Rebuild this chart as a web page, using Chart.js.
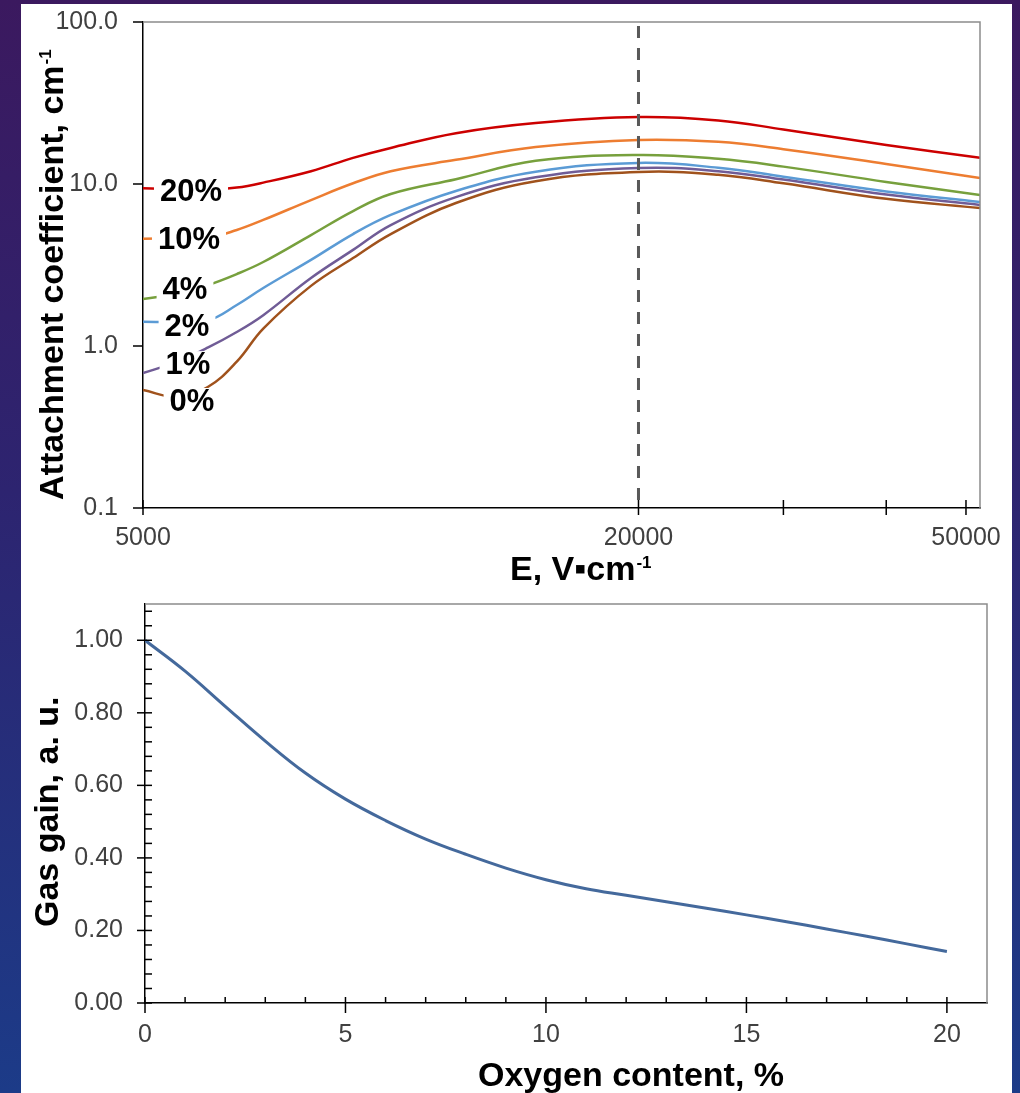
<!DOCTYPE html>
<html>
<head>
<meta charset="utf-8">
<script src="https://cdn.jsdelivr.net/npm/chart.js@4.4.1/dist/chart.umd.min.js"></script>
<style>
  html, body { margin: 0; padding: 0; }
  body {
    width: 1020px; height: 1093px; overflow: hidden; position: relative;
    background: linear-gradient(180deg, #3b195f 0%, #2d2470 45%, #1c3b88 100%);
  }
  .panel { position: absolute; left: 21px; top: 4px; width: 991px; height: 1089px; background: #fff; }
  canvas { position: absolute; left: 0; }
  #c1 { top: 0; }
  #c2 { top: 590px; }
</style>
</head>
<body>
<div class="panel"></div>
<canvas id="c1" width="1020" height="590"></canvas>
<canvas id="c2" width="1020" height="503"></canvas>
<script>
// ---- top chart: attachment coefficient vs field, per O2 content ----
const fieldE = [5000, 5500, 6000, 6500, 7000, 8000, 9000, 10000, 12000, 15000, 20000, 25000, 30000, 40000, 52000];
const o2Labels = ['20%', '10%', '4%', '2%', '1%', '0%'];
const att20 = [9.4, 9.3, 9.2, 9.5, 10.2, 12.0, 14.5, 16.7, 20.6, 23.8, 25.9, 24.7, 21.7, 17.4, 14.5];
const att10 = [4.6, 4.62, 4.66, 5.2, 6.0, 7.96, 10.1, 12.0, 14.1, 16.9, 18.7, 18.2, 16.4, 13.3, 10.9];
const att4 = [1.95, 2.1, 2.38, 2.78, 3.3, 4.84, 6.81, 8.67, 10.7, 13.9, 15.1, 14.3, 12.8, 10.3, 8.55];
const att2 = [1.41, 1.41, 1.44, 1.79, 2.28, 3.4, 4.91, 6.44, 9.06, 11.9, 13.5, 12.6, 11.1, 9.0, 7.74];
const att1 = [0.68, 0.8, 0.98, 1.22, 1.55, 2.63, 3.92, 5.58, 8.3, 11.0, 12.55, 12.0, 10.65, 8.6, 7.42];
const att0 = [0.535, 0.485, 0.56, 0.8, 1.28, 2.35, 3.49, 4.91, 7.63, 10.4, 11.86, 11.4, 10.1, 8.1, 7.11];
const attSeries = [att20, att10, att4, att2, att1, att0];
const attColors = ['#cc0000', '#ed7d31', '#77a03d', '#5b9bd5', '#705c96', '#a0521c'];
const labelOffsets = [[48, 3], [46, 1], [42, -10], [44, 5], [45, -9], [49, 11]];
const markerE = 20000;
const eTicks = [5000, 20000, 30000, 40000, 50000];
const eTickLabels = [5000, 20000, 50000];
const attTicks = [0.1, 1, 10, 100];

// ---- bottom chart: gas gain vs oxygen content ----
const o2Content = [0, 1, 2, 3, 4, 5, 6, 7, 8, 9, 10, 11, 12, 13, 14, 15, 16, 17, 18, 19, 20];
const gasGain = [1.0, 0.915, 0.818, 0.722, 0.634, 0.562, 0.503, 0.452, 0.41, 0.372, 0.34, 0.315, 0.297, 0.279, 0.261, 0.243, 0.224, 0.204, 0.184, 0.163, 0.142];
const o2Ticks = [0, 5, 10, 15, 20];
const o2Minor = [1, 2, 3, 4, 6, 7, 8, 9, 11, 12, 13, 14, 16, 17, 18, 19];
const gainTicks = [0, 0.2, 0.4, 0.6, 0.8, 1.0];
const gainMinor = Array.from({length: 27}, (_, i) => (i + 1) * 0.04)
  .filter(v => Math.abs(v / 0.2 - Math.round(v / 0.2)) > 1e-6);

const FONT = '"Liberation Sans", Arial, "DejaVu Sans", sans-serif';
const tickFont = { family: FONT, size: 25 };

// keep the plot box where it is, whatever the label sizes say
function pinPadding(s) {
  s.paddingTop = 0; s.paddingBottom = 0; s.paddingLeft = 0; s.paddingRight = 0;
}

// frame (grey top/right) + hand placed tick marks
const frameTicks = {
  id: 'frameTicks',
  afterDraw(chart, args, opts) {
    const ctx = chart.ctx;
    const { left, right, top, bottom } = chart.chartArea;
    ctx.save();
    ctx.strokeStyle = '#8c8c8c';
    ctx.lineWidth = 1.5;
    ctx.beginPath();
    ctx.moveTo(left, top); ctx.lineTo(right, top); ctx.lineTo(right, bottom);
    ctx.stroke();
    ctx.strokeStyle = '#000';
    ctx.lineWidth = 1.5;
    for (const m of opts.marks) {
      const scale = chart.scales[m.axis];
      for (const v of m.values) {
        const p = scale.getPixelForValue(v);
        ctx.beginPath();
        if (m.axis === 'x') { ctx.moveTo(p, bottom - m.inner); ctx.lineTo(p, bottom + m.outer); }
        else { ctx.moveTo(left - m.outer, p); ctx.lineTo(left + m.inner, p); }
        ctx.stroke();
      }
    }
    ctx.restore();
  }
};

const axisTitles = {
  id: 'axisTitles',
  afterDraw(chart, args, opts) {
    const ctx = chart.ctx;
    for (const t of opts.items) {
      ctx.save();
      ctx.translate(t.x, t.y);
      if (t.vertical) ctx.rotate(-Math.PI / 2);
      ctx.fillStyle = '#000';
      ctx.textAlign = 'left';
      ctx.textBaseline = 'alphabetic';
      ctx.font = 'bold 34px ' + FONT;
      ctx.fillText(t.text, 0, 0);
      if (t.sup) {
        const w = ctx.measureText(t.text).width;
        ctx.font = 'bold 17px ' + FONT;
        ctx.fillText(t.sup, w + 1, -12);
      }
      ctx.restore();
    }
  }
};

const seriesLabels = {
  id: 'seriesLabels',
  afterDatasetsDraw(chart) {
    const ctx = chart.ctx;
    const { top, bottom } = chart.chartArea;
    const px = chart.scales.x.getPixelForValue(markerE);
    ctx.save();
    ctx.strokeStyle = '#595959';
    ctx.lineWidth = 3;
    ctx.setLineDash([12, 10]);
    ctx.beginPath();
    ctx.moveTo(px, top + 4); ctx.lineTo(px, bottom);
    ctx.stroke();
    ctx.setLineDash([]);
    ctx.font = 'bold 31px ' + FONT;
    ctx.textAlign = 'center';
    ctx.textBaseline = 'middle';
    chart.data.datasets.forEach((ds, i) => {
      const pt = chart.getDatasetMeta(i).data[0];
      const cx = pt.x + labelOffsets[i][0];
      const cy = pt.y + labelOffsets[i][1];
      const w = ctx.measureText(ds.label).width;
      ctx.fillStyle = '#fff';
      ctx.fillRect(cx - w / 2 - 6, cy - 13, w + 12, 26);
      ctx.fillStyle = '#000';
      ctx.fillText(ds.label, cx, cy + 1);
    });
    ctx.restore();
  }
};

new Chart(document.getElementById('c1').getContext('2d'), {
  type: 'line',
  data: {
    datasets: attSeries.map((vals, i) => ({
      label: o2Labels[i],
      data: fieldE.map((e, k) => ({ x: e, y: vals[k] })),
      borderColor: attColors[i],
      borderWidth: 2.5,
      pointRadius: 0,
      tension: 0.4,
      fill: false
    }))
  },
  options: {
    responsive: false,
    animation: false,
    layout: { padding: { left: 0, right: 40, top: 22, bottom: 0 } },
    plugins: {
      legend: { display: false },
      tooltip: { enabled: false },
      frameTicks: { marks: [
        { axis: 'y', values: attTicks, inner: 0, outer: 10 },
        { axis: 'x', values: eTicks, inner: 8, outer: 7 }
      ] },
      axisTitles: { items: [
        { text: 'Attachment coefficient, cm', sup: '-1', x: 63, y: 500, vertical: true },
        { text: 'E, V\u25AAcm', sup: '-1', x: 510, y: 580 }
      ] }
    },
    scales: {
      x: {
        type: 'logarithmic', min: 5000, max: 52000,
        grid: { display: false },
        border: { display: true, color: '#000', width: 1.5 },
        afterBuildTicks: s => { s.ticks = eTicks.map(v => ({ value: v })); },
        afterFit: s => { s.height = 82; pinPadding(s); },
        ticks: {
          autoSkip: false, maxRotation: 0, padding: 7, color: '#404040', font: tickFont,
          callback: v => eTickLabels.includes(v) ? String(v) : ''
        }
      },
      y: {
        type: 'logarithmic', min: 0.1, max: 100,
        grid: { display: false },
        border: { display: true, color: '#000', width: 1.5 },
        afterBuildTicks: s => { s.ticks = attTicks.map(v => ({ value: v })); },
        afterFit: s => { s.width = 143; pinPadding(s); },
        ticks: { autoSkip: false, padding: 17, color: '#404040', font: tickFont, callback: v => Number(v).toFixed(1) }
      }
    }
  },
  plugins: [seriesLabels, frameTicks, axisTitles]
});

new Chart(document.getElementById('c2').getContext('2d'), {
  type: 'line',
  data: {
    datasets: [{
      label: 'Gas gain',
      data: o2Content.map((x, k) => ({ x: x, y: gasGain[k] })),
      borderColor: '#44699c',
      borderWidth: 3,
      pointRadius: 0,
      tension: 0.4,
      fill: false
    }]
  },
  options: {
    responsive: false,
    animation: false,
    layout: { padding: { left: 0, right: 33, top: 14, bottom: 0 } },
    plugins: {
      legend: { display: false },
      tooltip: { enabled: false },
      frameTicks: { marks: [
        { axis: 'y', values: gainTicks, inner: 7, outer: 8 },
        { axis: 'y', values: gainMinor, inner: 7, outer: 0 },
        { axis: 'x', values: o2Ticks, inner: 6, outer: 10 },
        { axis: 'x', values: o2Minor, inner: 6, outer: 0 }
      ] },
      axisTitles: { items: [
        { text: 'Gas gain, a. u.', x: 58, y: 337, vertical: true },
        { text: 'Oxygen content, %', x: 478, y: 496 }
      ] }
    },
    scales: {
      x: {
        type: 'linear', min: 0, max: 21,
        grid: { display: false },
        border: { display: true, color: '#000', width: 1.5 },
        afterBuildTicks: s => { s.ticks = o2Ticks.map(v => ({ value: v })); },
        afterFit: s => { s.height = 90; pinPadding(s); },
        ticks: { autoSkip: false, maxRotation: 0, padding: 9, color: '#404040', font: tickFont, callback: v => String(v) }
      },
      y: {
        type: 'linear', min: 0, max: 1.1,
        grid: { display: false },
        border: { display: true, color: '#000', width: 1.5 },
        afterBuildTicks: s => { s.ticks = gainTicks.map(v => ({ value: v })); },
        afterFit: s => { s.width = 145; pinPadding(s); },
        ticks: { autoSkip: false, padding: 14, color: '#404040', font: tickFont, callback: v => Number(v).toFixed(2) }
      }
    }
  },
  plugins: [frameTicks, axisTitles]
});
</script>
</body>
</html>
